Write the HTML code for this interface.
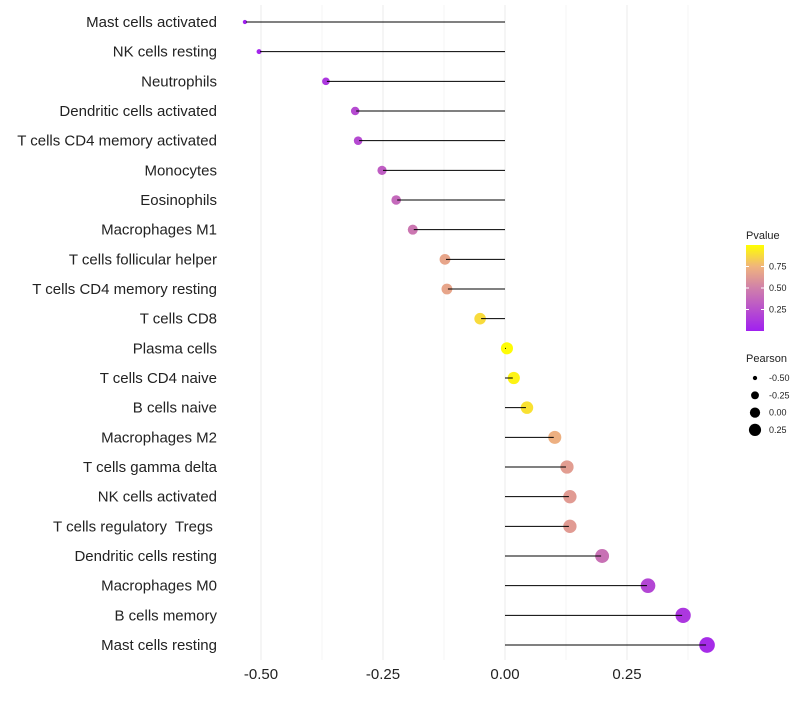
<!DOCTYPE html>
<html><head><meta charset="utf-8"><style>
body{margin:0;background:#fff;font-family:"Liberation Sans",sans-serif}
text{white-space:pre}
</style></head><body>
<svg id="c" width="800" height="700" xmlns="http://www.w3.org/2000/svg"></svg>
<script>
const categories=["Mast cells activated","NK cells resting","Neutrophils","Dendritic cells activated","T cells CD4 memory activated","Monocytes","Eosinophils","Macrophages M1","T cells follicular helper","T cells CD4 memory resting","T cells CD8","Plasma cells","T cells CD4 naive","B cells naive","Macrophages M2","T cells gamma delta","NK cells activated","T cells regulatory  Tregs ","Dendritic cells resting","Macrophages M0","B cells memory","Mast cells resting"];
const pearson=[-0.533,-0.504,-0.367,-0.307,-0.301,-0.252,-0.223,-0.189,-0.123,-0.119,-0.051,0.004,0.018,0.045,0.102,0.127,0.133,0.133,0.199,0.293,0.365,0.414];
const pvalues=[0.01,0.03,0.12,0.22,0.22,0.32,0.38,0.45,0.68,0.68,0.88,0.99,0.96,0.9,0.73,0.64,0.63,0.63,0.42,0.2,0.12,0.06];
const xTicks=[-0.5,-0.25,0,0.25];
const xTickLabels=["-0.50","-0.25","0.00","0.25"];
const pTicks=[0.25,0.5,0.75];
const pTickLabels=["0.25","0.50","0.75"];
const sizeTicks=[-0.5,-0.25,0,0.25];
const sizeTickLabels=["-0.50","-0.25","0.00","0.25"];

const svg=document.getElementById('c');const NS="http://www.w3.org/2000/svg";
function mk(t,a,p){const e=document.createElementNS(NS,t);for(const k in a)e.setAttribute(k,a[k]);(p||svg).appendChild(e);return e;}
const xS=v=>505+v*488;
const yS=i=>22+i*(645-22)/(categories.length-1);
const rS=v=>Math.sqrt(4+Math.max(0,v+0.54)*60);
const stops=[[0,[160,32,240]],[0.5,[208,128,170]],[0.75,[240,180,125]],[1,[255,255,0]]];
function col(p){for(let i=1;i<stops.length;i++){if(p<=stops[i][0]){const a=stops[i-1],b=stops[i];const t=(p-a[0])/(b[0]-a[0]);const c=a[1].map((v,j)=>Math.round(v+(b[1][j]-v)*t));return `rgb(${c})`;}}return 'rgb(255,255,0)';}
for(let v=-0.625;v<=0.5;v+=0.125){const x=xS(v);if(x<230||x>720)continue;const g=mk('line',{x1:x,x2:x,y1:5,y2:660,stroke:Math.abs(v*4-Math.round(v*4))<1e-6?'#ebebeb':'#f5f5f5','stroke-width':1});
}
xTicks.forEach((v,i)=>{const t=mk('text',{x:xS(v),y:679,'text-anchor':'middle','font-size':15,fill:'#222'});t.textContent=xTickLabels[i];
});
categories.forEach((c,i)=>{const y=yS(i);
const l=mk('text',{x:217,y:y+5,'text-anchor':'end','font-size':15,fill:'#222'});l.textContent=c;

const d=mk('circle',{cx:xS(pearson[i]),cy:y,r:rS(pearson[i]),fill:col(pvalues[i])});

const ln=mk('line',{x1:xS(0),x2:xS(pearson[i])+(pearson[i]>=0?-1:1),y1:y,y2:y,stroke:'#000','stroke-width':1});
});
const lt=mk('text',{x:746,y:239,'font-size':11,fill:'#222'});lt.textContent='Pvalue';

const defs=mk('defs',{});const gr=mk('linearGradient',{id:'pg',x1:0,y1:1,x2:0,y2:0},defs);
stops.forEach(s=>mk('stop',{offset:s[0],'stop-color':col(s[0])},gr));
const cb=mk('rect',{x:746,y:245,width:18,height:86,fill:'url(#pg)'});

const pY=p=>331-p*86;
pTicks.forEach((p,i)=>{mk('line',{x1:746,x2:749,y1:pY(p),y2:pY(p),stroke:'#fff'});mk('line',{x1:761,x2:764,y1:pY(p),y2:pY(p),stroke:'#fff'});
const t=mk('text',{x:769,y:pY(p)+3,'font-size':9,fill:'#222'});t.textContent=pTickLabels[i];
});
const st=mk('text',{x:746,y:362,'font-size':11,fill:'#222'});st.textContent='Pearson';

sizeTicks.forEach((v,i)=>{const y=378+i*17.3;const c=mk('circle',{cx:755,cy:y,r:rS(v)*0.85,fill:'#000'});

const t=mk('text',{x:769,y:y+3,'font-size':9,fill:'#222'});t.textContent=sizeTickLabels[i];
});
</script>
</body></html>
